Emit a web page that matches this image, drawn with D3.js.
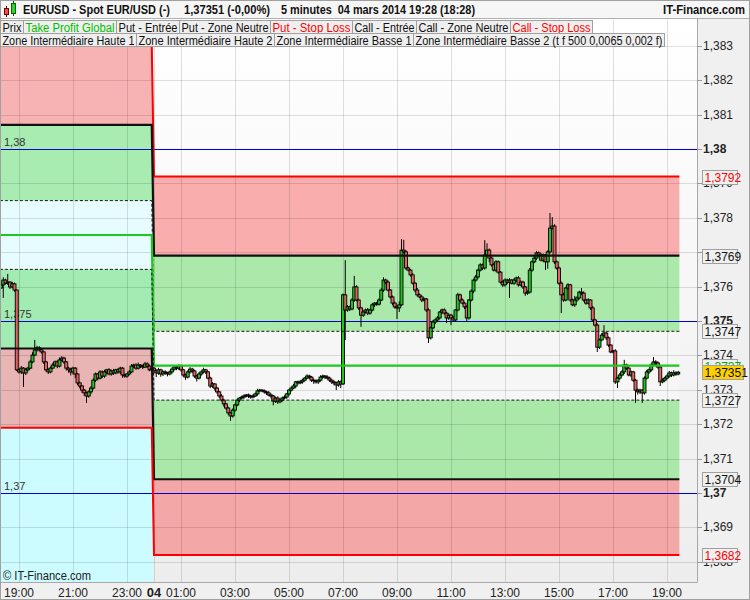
<!DOCTYPE html>
<html>
<head>
<meta charset="utf-8">
<script src="https://cdn.jsdelivr.net/npm/d3@7"></script>
<style>
body{margin:0;background:#fff;}
svg{display:block;font-family:"Liberation Sans",Arial,sans-serif;}
</style>
</head>
<body>
<div id="container"></div>
<script>
let w = 750;
let h = 600;

// ---- data ----
const titleParts = ["EURUSD - Spot EUR/USD (-)", "1,37351 (-0,00%)", "5 minutes  04 mars 2014 19:28 (18:28)", "IT-Finance.com"];
const legendRow1 = ["Prix", "Take Profit Global", "Put - Entrée", "Put - Zone Neutre", "Put - Stop Loss", "Call - Entrée", "Call - Zone Neutre", "Call - Stop Loss"];
const legendRow2 = ["Zone Intermédiaire Haute 1", "Zone Intermédiaire Haute 2", "Zone Intermédiaire Basse 1", "Zone Intermédiaire Basse 2 (t f 500 0,0065 0,002 f)"];
const copyright = "© IT-Finance.com";

// levels, top to bottom: stop haut, entrée haut, neutre haut, take profit, neutre bas, entrée bas, stop bas
const levels03 = [1.3830, 1.3807, 1.3785, 1.3775, 1.3765, 1.3742, 1.3719];
const levels04 = [1.3792, 1.3769, 1.3747, 1.3737, 1.3727, 1.3704, 1.3682];
const boldLevels = [1.37, 1.375, 1.38];
const lastPrice = 1.37351;

const xTickHours = ["19:00", "21:00", "23:00", "04", "01:00", "03:00", "05:00", "07:00", "09:00", "11:00", "13:00", "15:00", "17:00", "19:00"];
const xTickDates = [
  new Date(2014, 2, 3, 19), new Date(2014, 2, 3, 21), new Date(2014, 2, 3, 23), new Date(2014, 2, 4, 0),
  new Date(2014, 2, 4, 1), new Date(2014, 2, 4, 3), new Date(2014, 2, 4, 5), new Date(2014, 2, 4, 7),
  new Date(2014, 2, 4, 9), new Date(2014, 2, 4, 11), new Date(2014, 2, 4, 13), new Date(2014, 2, 4, 15),
  new Date(2014, 2, 4, 17), new Date(2014, 2, 4, 19)
];

// 5 minute candles from 03/03 18:20 ; open = previous close
const startTime = new Date(2014, 2, 3, 18, 20);
const dayBreak = new Date(2014, 2, 4, 0, 0);
const firstOpen = 1.37596;
const closes = [
  1.37605,1.37619,1.37610,1.37613,1.37599,1.37608,1.37590,1.37358,
  1.37352,1.37363,1.37349,1.37358,1.37363,1.37381,1.37401,1.37416,1.37422,1.37416,1.37410,1.37381,
  1.37358,1.37352,1.37363,1.37372,1.37381,1.37369,1.37387,1.37392,1.37381,1.37363,1.37358,1.37352,
  1.37363,1.37346,1.37320,1.37311,1.37299,1.37291,1.37282,1.37294,1.37305,1.37328,1.37346,1.37334,
  1.37352,1.37340,1.37352,1.37358,1.37346,1.37355,1.37349,1.37358,1.37352,1.37363,1.37343,1.37340,
  1.37346,1.37352,1.37369,1.37372,1.37363,1.37372,1.37369,1.37366,1.37375,1.37369,1.37358,1.37363,
  // 04 mars
  1.37355,1.37349,1.37358,1.37346,1.37352,1.37349,1.37346,1.37352,1.37360,1.37366,1.37363,1.37369,
  1.37358,1.37343,1.37337,1.37352,1.37360,1.37355,1.37340,1.37334,1.37346,1.37352,1.37358,1.37352,
  1.37334,1.37311,1.37317,1.37305,1.37294,1.37282,1.37270,1.37259,1.37247,1.37233,1.37224,1.37241,
  1.37256,1.37270,1.37276,1.37279,1.37282,1.37285,1.37282,1.37279,1.37282,1.37288,1.37297,1.37299,
  1.37297,1.37294,1.37291,1.37285,1.37282,1.37267,1.37276,1.37265,1.37270,1.37276,1.37279,1.37288,
  1.37299,1.37305,1.37311,1.37323,1.37320,1.37323,1.37328,1.37334,1.37340,1.37337,1.37328,1.37326,
  1.37323,1.37328,1.37337,1.37340,1.37337,1.37334,1.37328,1.37323,1.37320,1.37314,1.37323,1.37317,
  1.37576,1.37532,1.37541,1.37535,1.37561,1.37599,1.37561,1.37538,1.37517,1.37526,1.37532,1.37523,
  1.37532,1.37547,1.37552,1.37549,1.37561,1.37590,1.37619,1.37613,1.37590,1.37570,1.37552,1.37541,
  1.37538,1.37547,1.37706,1.37701,1.37654,1.37648,1.37634,1.37610,1.37590,1.37576,1.37570,1.37561,
  1.37564,1.37532,1.37451,1.37480,1.37497,1.37503,1.37509,1.37526,1.37532,1.37523,1.37509,1.37517,
  1.37509,1.37503,1.37532,1.37576,1.37561,1.37552,1.37541,1.37509,1.37561,1.37587,1.37619,1.37628,
  1.37648,1.37663,1.37654,1.37692,1.37706,1.37683,1.37663,1.37648,1.37672,1.37642,1.37613,1.37605,
  1.37619,1.37613,1.37619,1.37610,1.37619,1.37625,1.37605,1.37613,1.37599,1.37581,1.37584,1.37648,
  1.37672,1.37683,1.37698,1.37692,1.37677,1.37692,1.37672,1.37701,1.37770,1.37776,1.37672,1.37654,
  1.37610,1.37576,1.37561,1.37596,1.37605,1.37561,1.37547,1.37561,1.37567,1.37584,1.37581,1.37561,
  1.37552,1.37561,1.37538,1.37503,1.37488,1.37424,1.37445,1.37459,1.37465,1.37451,1.37430,1.37410,
  1.37413,1.37323,1.37334,1.37343,1.37352,1.37372,1.37363,1.37343,1.37352,1.37328,1.37299,1.37294,
  1.37299,1.37291,1.37334,1.37352,1.37358,1.37372,1.37381,1.37378,1.37366,1.37323,1.37328,1.37334,
  1.37340,1.37349,1.37343,1.37349,1.37346,1.37351
];
// wick beyond the body, in points (0.00001)
const wickUp = [
  5,8,4,24,3,6,4,2,
  4,6,3,5,4,6,8,29,6,5,4,3,
  3,4,5,6,4,5,7,6,4,3,4,5,
  4,3,3,4,3,3,4,4,6,5,4,3,
  5,4,6,3,5,4,6,3,5,4,3,4,
  3,5,6,4,5,7,3,4,6,5,4,3,
  4,5,6,3,4,5,3,4,5,6,4,5,
  4,3,4,5,6,4,3,4,5,4,6,3,
  3,4,5,3,4,3,5,4,3,4,3,5,
  4,5,3,4,5,3,4,3,5,4,6,4,
  3,4,3,5,4,3,4,5,3,4,5,3,
  4,5,6,3,4,5,4,3,5,4,3,5,
  4,3,5,4,3,5,4,3,4,3,5,4,
  4,101,5,4,6,32,5,4,3,5,4,6,
  4,5,3,4,5,6,8,4,5,3,4,5,
  5,10,32,30,5,4,3,5,4,6,4,5,
  4,3,5,4,6,4,5,3,4,5,4,5,
  4,5,3,6,4,5,4,5,3,5,4,6,
  4,5,4,43,20,5,4,6,5,4,3,5,
  5,4,6,3,5,4,6,5,4,3,5,6,
  4,5,6,4,5,4,3,5,44,26,5,4,
  4,5,6,4,5,3,4,12,5,4,12,5,
  4,5,3,6,4,5,4,6,23,5,4,3,
  3,5,4,6,5,15,4,5,4,3,4,5,
  4,3,5,6,4,5,14,5,4,3,5,4,
  5,6,4,8,5,4
];
const wickDown = [
  3,38,4,5,6,4,5,4,
  5,6,41,6,4,3,4,3,5,4,5,6,
  5,6,4,3,5,6,4,5,6,7,8,10,
  8,12,6,7,8,9,20,5,6,4,5,6,
  4,6,5,7,4,5,6,4,5,6,8,5,
  5,4,3,6,5,4,5,6,3,5,4,6,
  6,12,5,8,6,5,7,4,5,4,6,5,
  5,6,8,4,5,6,5,10,4,5,4,6,
  4,6,5,7,5,6,4,8,5,6,14,5,
  5,4,6,3,5,4,6,5,4,3,5,4,
  4,5,6,4,7,12,5,6,4,5,4,5,
  5,4,3,6,5,4,5,4,3,6,5,9,
  5,6,4,5,6,4,5,6,7,15,5,12,
  3,87,5,6,4,5,4,6,34,5,4,6,
  5,4,6,5,4,3,5,6,4,5,6,5,
  32,12,4,5,6,4,5,4,6,5,4,6,
  5,6,15,5,4,6,5,4,6,5,15,6,
  21,6,5,4,5,4,6,12,5,4,6,5,
  5,4,6,5,4,12,5,4,6,5,4,6,
  5,6,46,4,5,6,5,4,6,8,5,4,
  5,4,6,5,4,6,24,20,5,4,6,5,
  5,53,5,4,6,5,4,6,5,4,6,5,
  5,4,6,5,4,14,5,4,5,6,5,4,
  4,6,18,5,4,6,5,4,6,5,37,8,
  6,29,5,4,6,5,4,6,5,12,4,5,
  4,5,6,4,5,4
];

// ---- layout ----
let plotLeft = 0, plotRight = 697, plotTop = 18, plotBottom = 582;

// box / text widths measured on the original screen
let titleX = [23, 184, 281];
let titleLen = [147, 86, 194, 82];
let legendW1 = [23, 93, 63, 91, 82, 64, 94, 82];
let legendW2 = [136, 138, 139, 251];

let x = d3.scaleTime()
  .domain([new Date(2014, 2, 3, 19), new Date(2014, 2, 4, 19)])
  .range([19, 667]);
let y = d3.scaleLinear().domain([1.37, 1.38]).range([493, 149]);

let fmtComma = f => v => d3.format(f)(v).replace(".", ",");

let candles = closes.map(function(c, i){
  let o = i == 0 ? firstOpen : closes[i-1];
  return {
    t: new Date(+startTime + i*5*60000),
    o: o, c: c,
    hi: Math.max(o, c) + wickUp[i]/1e5,
    lo: Math.min(o, c) - wickDown[i]/1e5
  };
});
let half = 2.5*60000;
let seg03 = candles.filter(d => d.t < dayBreak);
let seg04 = candles.filter(d => d.t >= dayBreak);

let viz = d3.select("#container")
  .append("svg")
    .attr("width", w)
    .attr("height", h)
    .style("background-color", "#f0f0f0");

let defs = viz.append("defs");
let grad = defs.append("linearGradient").attr("id", "bg").attr("x1", 0).attr("y1", 0).attr("x2", 0).attr("y2", 1);
grad.append("stop").attr("offset", "0%").attr("stop-color", "#ffffff");
grad.append("stop").attr("offset", "100%").attr("stop-color", "#ededed");
defs.append("clipPath").attr("id", "plotclip").append("rect")
  .attr("x", plotLeft).attr("y", plotTop).attr("width", plotRight - plotLeft).attr("height", plotBottom - plotTop);

viz.append("rect")
  .attr("x", plotLeft).attr("y", plotTop)
  .attr("width", plotRight - plotLeft).attr("height", plotBottom - plotTop)
  .attr("fill", "url(#bg)");

let plot = viz.append("g").attr("clip-path", "url(#plotclip)");

// zone fills
let fills03 = ["#f7b3b3", "#a8ecb2", "#e6fcfe", "#e6fcfe", "#a2ecb4", "#e8b4b4"];
let fills04 = ["#f9adad", "#abe9ab", "#f6f6f6", "#f6f6f6", "#a9e8a9", "#f4a7a7"];

function drawZones(seg, levels, colors){
  let x0 = x(new Date(+seg[0].t - half));
  let x1 = x(new Date(+seg[seg.length-1].t + half));
  plot.selectAll(null).data(colors).enter()
    .append("rect")
      .attr("x", x0)
      .attr("width", x1 - x0)
      .attr("y", (d, k) => y(levels[k]))
      .attr("height", (d, k) => y(levels[k+1]) - y(levels[k]))
      .attr("fill", d => d);
  return [x0, x1];
}
let ext03 = drawZones(seg03, levels03, fills03);
drawZones(seg04, levels04, fills04);
// cyan area below the previous day's stop
plot.append("rect")
  .attr("x", ext03[0]).attr("width", ext03[1] - ext03[0])
  .attr("y", y(levels03[6])).attr("height", plotBottom - y(levels03[6]))
  .attr("fill", "#ccfcff");

// grid
let yAll = y.copy().domain([y.invert(plotBottom), y.invert(plotTop)]);
let yTicks = yAll.ticks(16);
plot.selectAll(".hgrid").data(yTicks).enter()
  .append("line")
    .attr("x1", plotLeft).attr("x2", plotRight)
    .attr("y1", d => Math.round(y(d)) + 0.5).attr("y2", d => Math.round(y(d)) + 0.5)
    .attr("stroke", "rgba(0,0,0,0.12)");
plot.selectAll(".vgrid").data(xTickDates).enter()
  .append("line")
    .attr("x1", d => Math.round(x(d)) + 0.5).attr("x2", d => Math.round(x(d)) + 0.5)
    .attr("y1", plotTop).attr("y2", plotBottom)
    .attr("stroke", "rgba(0,0,0,0.12)");

// round-number blue lines
plot.selectAll(".blue").data(boldLevels).enter()
  .append("line")
    .attr("x1", plotLeft).attr("x2", plotRight)
    .attr("y1", d => Math.round(y(d)) + 0.5).attr("y2", d => Math.round(y(d)) + 0.5)
    .attr("stroke", "#0000d0");
plot.selectAll(".bluelbl").data(boldLevels).enter()
  .append("text")
    .attr("x", 4).attr("y", d => y(d) - 3)
    .text(fmtComma(".4~f"))
    .style("font-size", "11px").attr("fill", "#333");

// candles
let cg = plot.append("g");
cg.selectAll(".wick").data(candles).enter()
  .append("line")
    .attr("x1", d => x(d.t)).attr("x2", d => x(d.t))
    .attr("y1", d => y(d.hi)).attr("y2", d => y(d.lo))
    .attr("stroke", "#000").attr("stroke-width", 1);
cg.selectAll(".body").data(candles).enter()
  .append("rect")
    .attr("x", d => x(d.t) - 1.5)
    .attr("width", 3)
    .attr("y", d => y(Math.max(d.o, d.c)))
    .attr("height", d => Math.max(Math.abs(y(d.o) - y(d.c)), 0.6))
    .attr("fill", d => d.c > d.o ? "#22c022" : (d.c < d.o ? "#e46262" : "#000"))
    .attr("stroke", "#000").attr("stroke-width", 0.9);

// zone lines (step from one day to the next)
let lineStyles = [
  {c: "#ff0000", w: 2, dash: null},
  {c: "#111", w: 2.2, dash: null},
  {c: "#111", w: 1, dash: "3,2"},
  {c: "#1ec81e", w: 2.2, dash: null},
  {c: "#111", w: 1, dash: "3,2"},
  {c: "#111", w: 2.2, dash: null},
  {c: "#ff0000", w: 2, dash: null}
];
let lvl = (d, k) => (d.t < dayBreak ? levels03 : levels04)[k];
lineStyles.forEach(function(s, k){
  let pts = [{t: new Date(+candles[0].t - half), k: levels03[k]}]
    .concat(candles.map(d => ({t: d.t, k: lvl(d, k)})))
    .concat([{t: new Date(+candles[candles.length-1].t + half), k: levels04[k]}]);
  plot.append("path")
    .datum(pts)
    .attr("d", d3.line().x(d => x(d.t)).y(d => y(d.k)))
    .attr("fill", "none")
    .attr("stroke", s.c)
    .attr("stroke-width", s.w)
    .attr("stroke-dasharray", s.dash);
});

// copyright
viz.append("text").attr("x", 3).attr("y", 580).text(copyright)
  .attr("textLength", 88).attr("lengthAdjust", "spacingAndGlyphs")
  .style("font-size", "12px").attr("fill", "#222");

// plot frame
viz.append("line").attr("x1", plotRight + 0.5).attr("x2", plotRight + 0.5).attr("y1", plotTop).attr("y2", plotBottom)
  .attr("stroke", "#a8a8a8");
viz.append("line").attr("x1", 0).attr("x2", plotRight + 0.5).attr("y1", plotBottom + 0.5).attr("y2", plotBottom + 0.5)
  .attr("stroke", "#a8a8a8");

// right axis (labels sitting right under a value tag are hidden, like on the screen)
let labelTicks = yTicks.filter(d => !levels04.some(l => Math.abs(y(l) - y(d)) < 5.5));
let yAxisG = viz.append("g");
yAxisG.selectAll("line").data(yTicks).enter()
  .append("line")
    .attr("x1", plotRight).attr("x2", plotRight + 5)
    .attr("y1", d => Math.round(y(d)) + 0.5).attr("y2", d => Math.round(y(d)) + 0.5)
    .attr("stroke", "#999");
yAxisG.selectAll("text").data(labelTicks).enter()
  .append("text")
    .attr("x", plotRight + 6)
    .attr("y", d => y(d) + 4)
    .text(fmtComma(".4~f"))
    .style("font-size", "12px")
    .style("font-weight", d => boldLevels.some(b => Math.abs(b - d) < 1e-7) ? "bold" : "normal")
    .attr("fill", "#222");

// value tags on axis
let tagColors = ["#ff0000", "#111", "#111", "#00b000", "#111", "#111", "#ff0000"];
let tags = viz.selectAll(".tag").data(levels04).enter().append("g");
tags.append("rect")
  .attr("x", plotRight + 5.5).attr("width", 35)
  .attr("y", d => Math.round(y(d)) - 6.5).attr("height", 14)
  .attr("fill", "#f0f0f0").attr("stroke", "#a0a0a0");
tags.append("text")
  .attr("x", plotRight + 7.5).attr("y", d => Math.round(y(d)) + 4.5)
  .text(fmtComma(".4f"))
  .style("font-size", "12px")
  .attr("fill", (d, k) => tagColors[k]);
let pTag = viz.append("g");
pTag.append("rect")
  .attr("x", plotRight + 5.5).attr("width", 41)
  .attr("y", Math.round(y(lastPrice)) - 6.5).attr("height", 14)
  .attr("fill", "#ffd000").attr("stroke", "#a0a0a0");
pTag.append("text")
  .attr("x", plotRight + 7.5).attr("y", Math.round(y(lastPrice)) + 4.5)
  .text(fmtComma(".5f")(lastPrice))
  .style("font-size", "12px").attr("fill", "#111");

// bottom axis
viz.selectAll(".xlbl").data(xTickDates).enter()
  .append("text")
    .attr("x", d => x(d))
    .attr("y", 597)
    .attr("text-anchor", "middle")
    .text((d, i) => xTickHours[i])
    .style("font-size", (d, i) => xTickHours[i] == "04" ? "13px" : "12px")
    .style("font-weight", (d, i) => xTickHours[i] == "04" ? "bold" : "normal")
    .attr("fill", "#222");

// header
viz.append("rect").attr("x", 0).attr("y", 0).attr("width", w).attr("height", 18.5).attr("fill", "#f6f6f6");
viz.append("line").attr("x1", 0).attr("x2", w).attr("y1", 18.5).attr("y2", 18.5).attr("stroke", "#b0b0b0");
let icon = viz.append("g");
icon.append("line").attr("x1", 6.5).attr("x2", 6.5).attr("y1", 6).attr("y2", 17).attr("stroke", "#600");
icon.append("rect").attr("x", 4.5).attr("y", 8.5).attr("width", 4).attr("height", 6).attr("fill", "#e85050").attr("stroke", "#700");
icon.append("line").attr("x1", 13.5).attr("x2", 13.5).attr("y1", 1).attr("y2", 16).attr("stroke", "#050");
icon.append("rect").attr("x", 11.5).attr("y", 3.5).attr("width", 4).attr("height", 10).attr("fill", "#30d030").attr("stroke", "#060");
viz.selectAll(".title").data(titleParts.slice(0, 3)).enter()
  .append("text")
    .attr("x", (d, i) => titleX[i]).attr("y", 14)
    .text(d => d)
    .attr("textLength", (d, i) => titleLen[i]).attr("lengthAdjust", "spacingAndGlyphs")
    .style("white-space", "pre")
    .style("font-size", "12px").style("font-weight", "bold").attr("fill", "#111");
viz.append("text").attr("x", 745 - titleLen[3]).attr("y", 14)
  .text(titleParts[3])
  .attr("textLength", titleLen[3]).attr("lengthAdjust", "spacingAndGlyphs")
  .style("font-size", "12px").style("font-weight", "bold").attr("fill", "#111");

// legend boxes
let legendColor = {"Take Profit Global": "#00c000", "Put - Stop Loss": "#ff0000", "Call - Stop Loss": "#ff0000"};
function legendRow(items, widths, top){
  let cx = 0.5;
  items.forEach(function(name, i){
    let g = viz.append("g");
    g.append("rect").attr("x", cx).attr("y", top).attr("width", widths[i]).attr("height", 13)
      .attr("fill", "#efefef").attr("stroke", "#a0a0a0");
    g.append("text").attr("x", cx + 2).attr("y", top + 11)
      .text(name)
      .attr("textLength", widths[i] - 4).attr("lengthAdjust", "spacingAndGlyphs")
      .style("font-size", "12px").attr("fill", legendColor[name] || "#111");
    cx += widths[i];
  });
}
legendRow(legendRow1, legendW1, 20.5);
legendRow(legendRow2, legendW2, 33.5);

// outer frame
viz.append("rect").attr("x", 0.5).attr("y", 0.5).attr("width", w - 1).attr("height", h - 1)
  .attr("fill", "none").attr("stroke", "#a0a0a0");
</script>
</body>
</html>
